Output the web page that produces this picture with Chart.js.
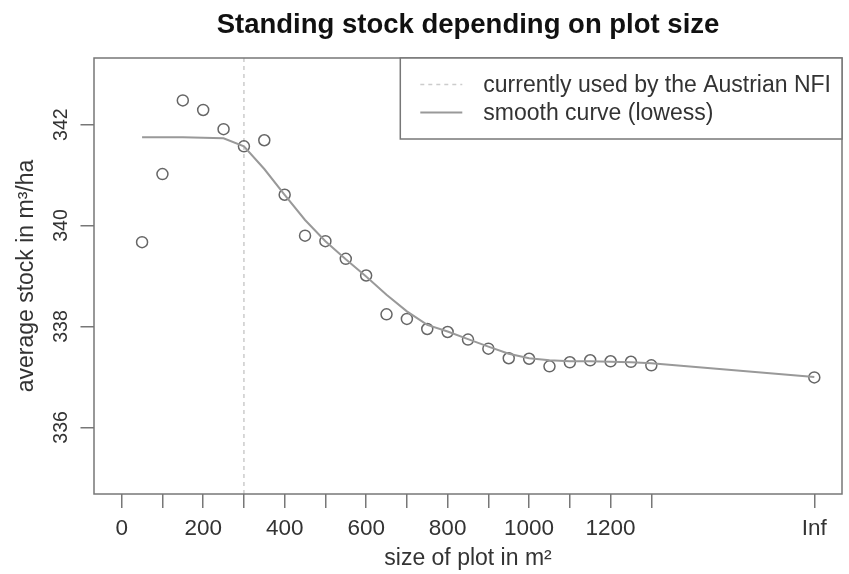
<!DOCTYPE html>
<html lang="en">
<head>
<meta charset="UTF-8">
<title>Standing stock depending on plot size</title>
<script src="https://cdn.jsdelivr.net/npm/chart.js@4.4.1/dist/chart.umd.min.js"></script>
<style>
  body { margin: 0; background: #fff; }
  #wrap { width: 849px; height: 574px; position: relative; }
</style>
</head>
<body>
<div id="wrap"><canvas id="chartStock"></canvas></div>
<script>
  // plot sizes in m² ("Inf" is drawn at 1700)
  const plotSizes = [50, 100, 150, 200, 250, 300, 350, 400, 450, 500, 550, 600, 650,
    700, 750, 800, 850, 900, 950, 1000, 1050, 1100, 1150, 1200, 1250, 1300, 1700];
  // average stock (m³/ha)
  const avgStock = [339.67, 341.02, 342.48, 342.29, 341.91, 341.57, 341.69, 340.61, 339.80,
    339.69, 339.34, 339.01, 338.24, 338.15, 337.95, 337.89, 337.74, 337.56, 337.37,
    337.36, 337.21, 337.29, 337.33, 337.31, 337.30, 337.23, 336.99];
  // lowess curve
  const lowessFit = [341.75, 341.75, 341.75, 341.74, 341.73, 341.57, 341.12, 340.61, 340.11,
    339.69, 339.33, 338.99, 338.63, 338.30, 338.03, 337.90, 337.75, 337.60, 337.46,
    337.37, 337.33, 337.31, 337.31, 337.30, 337.29, 337.27, 337.00];
  const nfiSize = 300;
  const xTicks = [0, 100, 200, 300, 400, 500, 600, 700, 800, 900, 1000, 1100, 1200, 1300, 1700];
  const xTickLabels = ['0', '', '200', '', '400', '', '600', '', '800', '', '1000', '', '1200', '', 'Inf'];
  const yTicks = [336, 338, 340, 342];
  const xRange = [-68, 1768];
  const yRange = [334.68, 343.32];

  const legendItems = [
    { text: 'currently used by the Austrian NFI', color: '#cccccc', dash: [4, 4], width: 1.5 },
    { text: 'smooth curve (lowess)', color: '#999999', dash: [], width: 2 }
  ];

  const FONT = '"Liberation Sans", Arial, sans-serif';

  // box around plot area, title and legend like base R
  const rStyle = {
    id: 'rStyle',
    afterDraw(chart) {
      const ctx = chart.ctx;
      const a = chart.chartArea;
      ctx.save();
      ctx.strokeStyle = '#777';
      ctx.lineWidth = 1.5;
      ctx.setLineDash([]);
      ctx.strokeRect(a.left, a.top, a.right - a.left, a.bottom - a.top);

      ctx.fillStyle = '#111';
      ctx.font = 'bold 27.5px ' + FONT;
      ctx.textAlign = 'center';
      ctx.textBaseline = 'alphabetic';
      ctx.fillText('Standing stock depending on plot size', (a.left + a.right) / 2, 33);

      ctx.font = '23px ' + FONT;
      let tw = 0;
      legendItems.forEach(it => { tw = Math.max(tw, ctx.measureText(it.text).width); });
      const bw = 20 + 42 + 21 + tw + 11;
      const bx = a.right - bw;
      ctx.fillStyle = '#fff';
      ctx.fillRect(bx, a.top, bw, 81);
      ctx.strokeRect(bx, a.top, bw, 81);
      legendItems.forEach((it, i) => {
        const ly = a.top + 26.5 + i * 28;
        ctx.strokeStyle = it.color;
        ctx.lineWidth = it.width;
        ctx.setLineDash(it.dash);
        ctx.beginPath();
        ctx.moveTo(bx + 20, ly);
        ctx.lineTo(bx + 62, ly);
        ctx.stroke();
        ctx.setLineDash([]);
        ctx.fillStyle = '#333';
        ctx.textAlign = 'left';
        ctx.textBaseline = 'middle';
        ctx.fillText(it.text, bx + 83, ly + 1.5);
      });
      ctx.restore();
    }
  };

  const ctx = document.getElementById('chartStock').getContext('2d');
  const chart = new Chart(ctx, {
    type: 'scatter',
    data: {
      datasets: [
        {
          label: 'NFI',
          type: 'line',
          data: [{ x: nfiSize, y: yRange[0] }, { x: nfiSize, y: yRange[1] }],
          borderColor: '#cccccc',
          borderWidth: 1.5,
          borderDash: [4, 4],
          pointRadius: 0,
          order: 3
        },
        {
          label: 'stock',
          data: plotSizes.map((x, i) => ({ x: x, y: avgStock[i] })),
          pointStyle: 'circle',
          pointRadius: 5.5,
          borderWidth: 1.5,
          borderColor: '#666',
          backgroundColor: 'rgba(0,0,0,0)',
          order: 2
        },
        {
          label: 'lowess',
          type: 'line',
          data: plotSizes.map((x, i) => ({ x: x, y: lowessFit[i] })),
          borderColor: '#999',
          borderWidth: 2,
          pointRadius: 0,
          tension: 0,
          order: 1
        }
      ]
    },
    options: {
      responsive: true,
      maintainAspectRatio: false,
      animation: false,
      layout: { padding: { top: 58, right: 5, bottom: 0, left: 0 } },
      plugins: {
        legend: { display: false },
        title: { display: false },
        tooltip: { enabled: false }
      },
      scales: {
        x: {
          type: 'linear',
          min: xRange[0],
          max: xRange[1],
          afterBuildTicks: s => { s.ticks = xTicks.map(v => ({ value: v })); },
          afterFit: s => { s.height = 80; },
          grid: { drawOnChartArea: false, drawTicks: true, tickLength: 14, color: '#777', lineWidth: 1.5 },
          border: { display: false },
          ticks: {
            autoSkip: false,
            maxRotation: 0,
            padding: 7,
            color: '#333',
            font: { family: FONT, size: 22.5 },
            callback: (v) => xTickLabels[xTicks.indexOf(v)]
          },
          title: {
            display: true,
            text: 'size of plot in m²',
            color: '#333',
            font: { family: FONT, size: 23 },
            padding: { top: 0, bottom: 2 }
          }
        },
        y: {
          min: yRange[0],
          max: yRange[1],
          afterBuildTicks: s => { s.ticks = yTicks.map(v => ({ value: v })); },
          afterFit: s => { s.width = 94; },
          grid: { drawOnChartArea: false, drawTicks: true, tickLength: 13.5, color: '#777', lineWidth: 1.5 },
          border: { display: false },
          ticks: {
            minRotation: 90,
            maxRotation: 90,
            crossAlign: 'center',
            padding: 3,
            color: '#333',
            font: { family: FONT, size: 19.5 }
          },
          title: {
            display: true,
            text: 'average stock in m³/ha',
            color: '#333',
            font: { family: FONT, size: 23 },
            padding: { top: 13, bottom: 0 }
          }
        }
      }
    },
    plugins: [rStyle]
  });
</script>
</body>
</html>
